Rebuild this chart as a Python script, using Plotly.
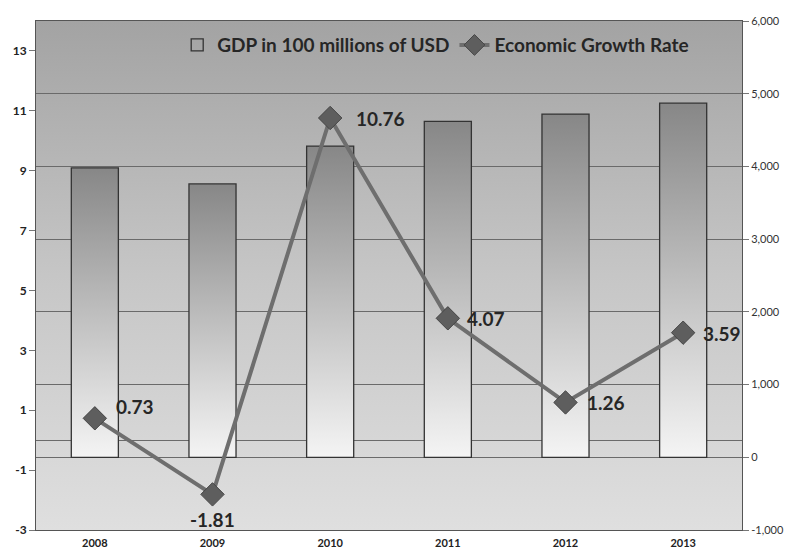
import base64
import plotly.graph_objects as go

years = ["2008", "2009", "2010", "2011", "2012", "2013"]
gdp = [3980, 3760, 4280, 4620, 4720, 4870]
growth = [0.73, -1.81, 10.76, 4.07, 1.26, 3.59]
growth_labels = ["0.73", "-1.81", "10.76", "4.07", "1.26", "3.59"]
left_ticks = [-3, -1, 1, 3, 5, 7, 9, 11, 13]
right_ticks = [-1000, 0, 1000, 2000, 3000, 4000, 5000, 6000]

# label placement (style only): anchor, x shift, y shift in px
label_style = [("left", 19, 12), ("center", 0, -25), ("left", 24, 0),
               ("left", 17, 0), ("left", 19, 0), ("left", 18, -1)]

xs = list(range(len(years)))
BAR_W = 0.4

fig = go.Figure()

# gradient fill for each bar (drawn on the primary subplot, under the bar outlines)
for i, v in zip(xs, gdp):
    fig.add_trace(go.Scatter(
        x=[i - BAR_W / 2, i + BAR_W / 2, i + BAR_W / 2, i - BAR_W / 2, i - BAR_W / 2],
        y=[0, 0, v, v, 0],
        mode="lines", line=dict(width=0, color="rgba(0,0,0,0)"),
        fill="toself",
        fillgradient=dict(type="vertical",
                          colorscale=[[0, "rgb(244,244,244)"], [0.5, "rgb(190,190,190)"], [1, "rgb(135,135,135)"]]),
        showlegend=False, hoverinfo="skip", xaxis="x", yaxis="y"))

# bars (outline + legend)
fig.add_trace(go.Bar(
    x=xs, y=gdp, width=BAR_W, name="GDP in 100 millions of USD",
    marker=dict(color="rgba(210,210,210,0)", line=dict(color="#333333", width=1.3)),
    xaxis="x", yaxis="y2"))

# growth line
fig.add_trace(go.Scatter(
    x=xs, y=growth, name="Economic Growth Rate",
    mode="lines+markers",
    line=dict(color="#6e6e6e", width=4),
    marker=dict(symbol="diamond", size=18, color="#5e5e5e", line=dict(color="#454545", width=1)),
    cliponaxis=False,
    xaxis="x", yaxis="y3"))

annotations = []
for i, (g, t, (anc, dx, dy)) in enumerate(zip(growth, growth_labels, label_style)):
    annotations.append(dict(
        x=i, y=g, xref="x", yref="y3", text=t, showarrow=False,
        xanchor=anc, yanchor="middle", xshift=dx, yshift=dy,
        font=dict(family="Lato", size=19, color="#262626", weight="bold")))

svg = ('<svg xmlns="http://www.w3.org/2000/svg" width="100" height="100" preserveAspectRatio="none">'
       '<defs><linearGradient id="g" x1="0" y1="0" x2="0" y2="1">'
       '<stop offset="0" stop-color="rgb(163,163,163)"/>'
       '<stop offset="0.5" stop-color="rgb(198,198,198)"/>'
       '<stop offset="1" stop-color="rgb(223,223,223)"/>'
       '</linearGradient></defs><rect width="100" height="100" fill="url(#g)"/></svg>')
src = "data:image/svg+xml;base64," + base64.b64encode(svg.encode()).decode()

fig.update_layout(
    width=796, height=551,
    margin=dict(l=36, r=52, t=21, b=21),
    paper_bgcolor="white", plot_bgcolor="rgba(0,0,0,0)",
    images=[dict(source=src, xref="paper", yref="paper", x=0, y=1, sizex=1, sizey=1,
                 sizing="stretch", layer="below", xanchor="left", yanchor="top")],
    annotations=annotations,
    xaxis=dict(range=[-0.5, 5.5], tickvals=xs, ticktext=years, showgrid=False, zeroline=False,
               showline=True, linecolor="#555555", linewidth=1, mirror=True,
               ticks="", ticklabelstandoff=3, automargin=False,
               tickfont=dict(family="Lato", size=11, color="#222222", weight="bold")),
    yaxis=dict(range=[-1000, 6000], side="right", tickvals=right_ticks,
               ticktext=[f"{t:,}" for t in right_ticks],
               showgrid=True, gridcolor="#6a6a6a", gridwidth=1, zeroline=False,
               showline=True, linecolor="#555555", ticks="outside", ticklen=6, tickcolor="#777777",
               tickfont=dict(family="Lato", size=11, color="#333333")),
    yaxis2=dict(range=[-1000, 6000], overlaying="y", side="right", visible=False),
    yaxis3=dict(range=[-3, 14], overlaying="y", side="left", tickvals=left_ticks,
                ticktext=[str(t) for t in left_ticks],
                showgrid=False, zeroline=True, zerolinecolor="#6a6a6a", zerolinewidth=1,
                showline=True, linecolor="#555555", ticks="outside", ticklen=6, tickcolor="#777777",
                tickfont=dict(family="Lato", size=12, color="#222222", weight="bold")),
    legend=dict(orientation="h", x=0.2, y=0.99, xanchor="left", yanchor="top",
                bgcolor="rgba(0,0,0,0)", traceorder="normal",
                font=dict(family="Lato", size=19, color="#262626", weight="bold"),
                itemwidth=30, tracegroupgap=0),
    showlegend=True,
)

fig.write_html("out.html")
